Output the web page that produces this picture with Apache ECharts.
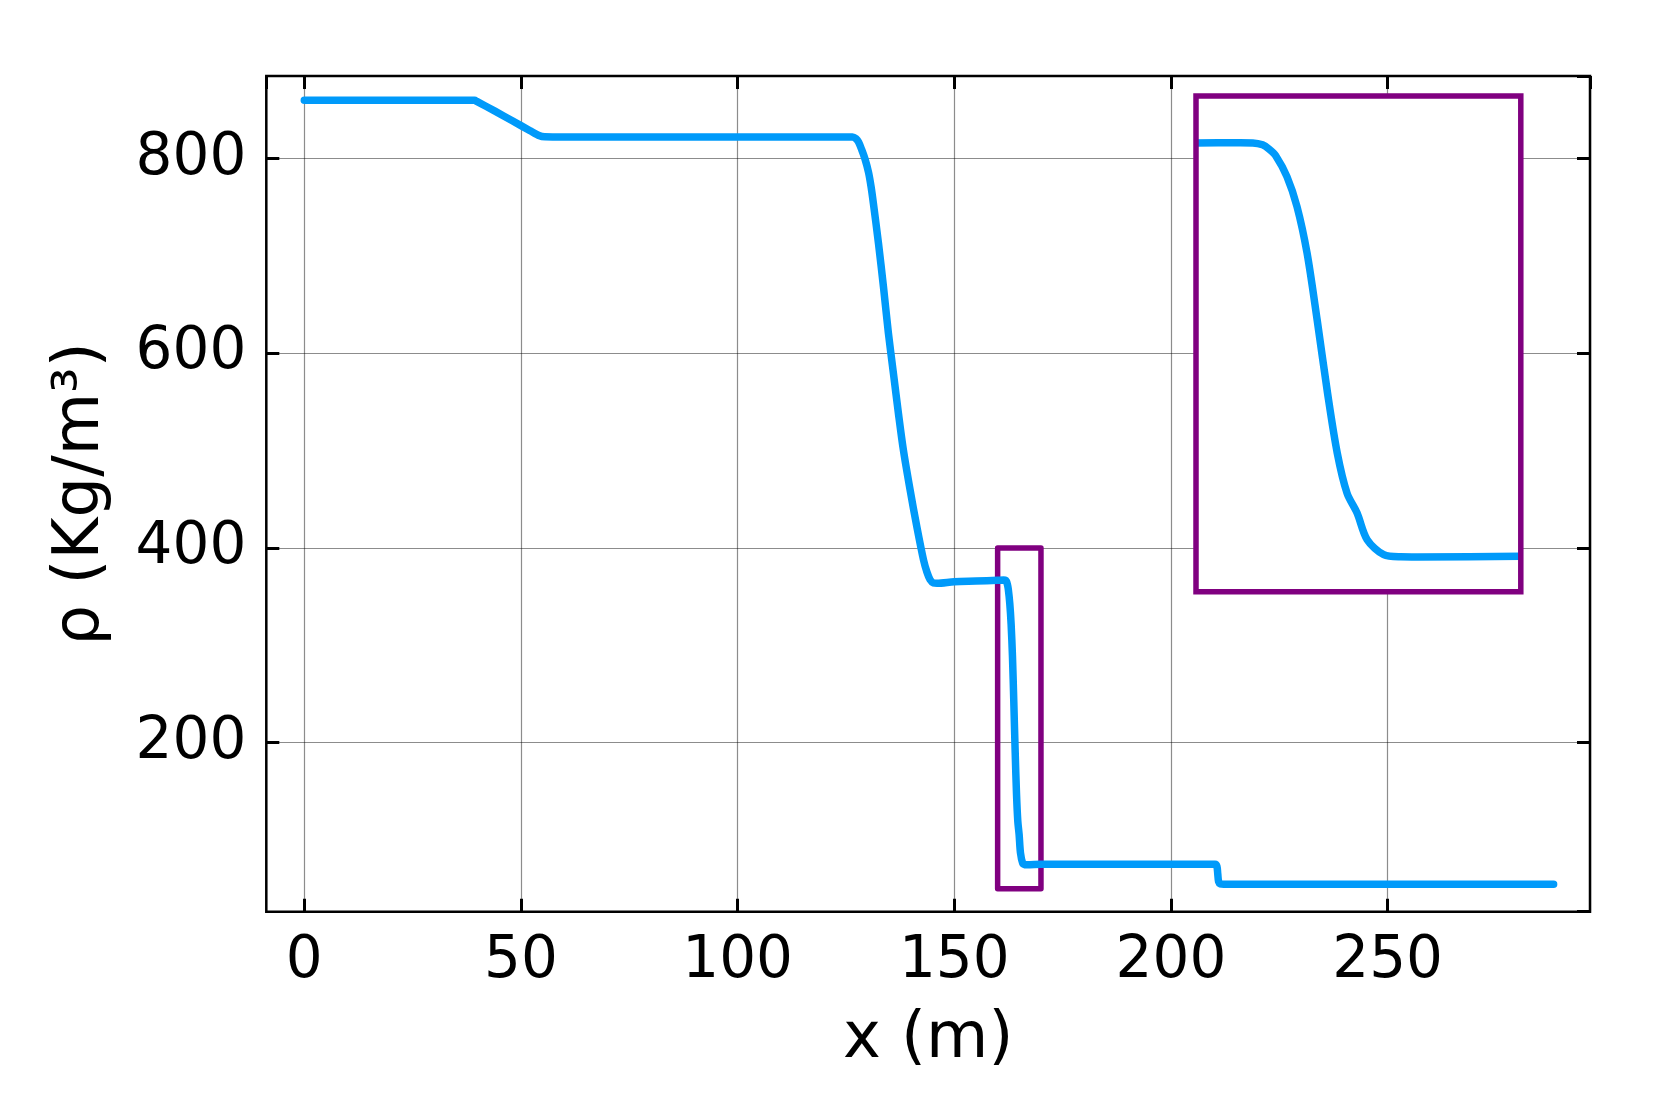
<!DOCTYPE html>
<html>
<head>
<meta charset="utf-8">
<script src="https://cdn.jsdelivr.net/npm/echarts@6/dist/echarts.min.js"></script>
<style>
html,body{margin:0;padding:0;background:#fff;}
#chart{width:1667px;height:1112px;}
</style>
</head>
<body>
<div id="chart"></div>
<script>
// ---- data ----
const xValues = [0, 39.3, 39.8, 44, 48, 52, 54.3, 55.5, 60, 126.5, 127.3, 127.9, 128.65, 129.4, 130.2, 130.8, 131.3, 132.5, 133.65, 134.8, 135.95, 137.1, 138.25, 139.8, 141.35, 142.9, 143.7, 144.4, 145.2, 146, 150, 155, 160, 161.36, 161.75, 162.05, 162.25, 162.45, 162.8, 163.11, 163.42, 163.73, 164.05, 164.35, 164.65, 164.96, 165.27, 165.78, 166.3, 166.81, 170, 190, 210.2, 210.6, 210.8, 211.0, 211.4, 212.2, 288.3];
const rhoValues = [860, 860, 858.8, 848.8, 838.9, 829.0, 823.5, 822.5, 822.3, 822.3, 820.5, 817, 809, 799.5, 786, 771, 755, 713, 668.4, 620.5, 579.4, 538.4, 500.6, 459.6, 421.9, 387.6, 375, 367.5, 364, 363.7, 365.3, 366, 366.8, 367, 366.9, 365.5, 362.5, 358, 343.1, 321.9, 289.0, 241.9, 190.2, 147.8, 119.6, 105.5, 86.7, 76.1, 74.6, 74.5, 75, 75, 75, 73, 65, 57, 54.8, 54.5, 54.5];
const lensX = [160, 170];
const lensY = [50, 400];
const xLimits = [-8.77, 296.7];
const yLimits = [26.3, 884.9];

const lineData = xValues.map((x, i) => [x, rhoValues[i]]);
const lensRect = [[lensX[0], lensY[0]], [lensX[1], lensY[0]], [lensX[1], lensY[1]], [lensX[0], lensY[1]], [lensX[0], lensY[0]]];

const FONT = 'DejaVu Sans';
const BLUE = '#009AFA';
const PURPLE = '#800080';
const LW = 7.5;
const tickStyle = {show: true, inside: true, length: 13, lineStyle: {color: '#000', width: 3}};
const gridLine = {show: true, lineStyle: {color: 'rgba(0,0,0,0.45)', width: 1.2}};
const noLine = {show: false, onZero: false};

// inset frame; the line grid is shrunk by half a line width so the series clip ends on the frame centre
const inset = {left: 1196, top: 96, width: 324.8, height: 495.7};
const pad = LW / 2;
const dx = (lensX[1] - lensX[0]) * pad / inset.width;
const dy = (lensY[1] - lensY[0]) * pad / inset.height;

const chart = echarts.init(document.getElementById('chart'), null, {renderer: 'canvas'});
chart.setOption({
  backgroundColor: '#fff',
  animation: false,
  grid: [
    {left: 266.3, top: 76, width: 1323.7, height: 835.7, show: true, borderColor: '#000', borderWidth: 2.5, backgroundColor: 'transparent', z: 0},
    {left: inset.left + pad, top: inset.top + pad, width: inset.width - 2 * pad, height: inset.height - 2 * pad, show: false, z: 5},
    {left: inset.left, top: inset.top, width: inset.width, height: inset.height, show: true, borderWidth: 0, backgroundColor: '#fff', z: 4},
    {left: inset.left, top: inset.top, width: inset.width, height: inset.height, show: true, borderWidth: 5.5, borderColor: PURPLE, backgroundColor: 'transparent', z: 8}
  ],
  xAxis: [
    {type: 'value', gridIndex: 0, min: xLimits[0], max: xLimits[1], splitNumber: 6, position: 'bottom',
     axisLine: noLine, axisTick: tickStyle, splitLine: gridLine,
     axisLabel: {show: true, showMinLabel: false, showMaxLabel: false, fontFamily: FONT, fontSize: 58, color: '#000', margin: 21},
     name: 'x (m)', nameLocation: 'middle', nameGap: 97, nameTextStyle: {fontFamily: FONT, fontSize: 64, color: '#000'}},
    {type: 'value', gridIndex: 0, min: xLimits[0], max: xLimits[1], splitNumber: 6, position: 'top',
     axisLine: noLine, axisTick: tickStyle, splitLine: {show: false}, axisLabel: {show: false}},
    {type: 'value', gridIndex: 1, min: lensX[0] + dx, max: lensX[1] - dx, show: false},
    {type: 'value', gridIndex: 2, min: lensX[0], max: lensX[1], show: false},
    {type: 'value', gridIndex: 3, min: lensX[0], max: lensX[1], show: false}
  ],
  yAxis: [
    {type: 'value', gridIndex: 0, min: yLimits[0], max: yLimits[1], splitNumber: 4, position: 'left',
     axisLine: noLine, axisTick: tickStyle, splitLine: gridLine,
     axisLabel: {show: true, showMinLabel: false, showMaxLabel: false, fontFamily: FONT, fontSize: 58, color: '#000', margin: 20},
     name: 'ρ (Kg/m³)', nameLocation: 'middle', nameGap: 153, nameTextStyle: {fontFamily: FONT, fontSize: 64, color: '#000'}},
    {type: 'value', gridIndex: 0, min: yLimits[0], max: yLimits[1], splitNumber: 4, position: 'right',
     axisLine: noLine, axisTick: tickStyle, splitLine: {show: false}, axisLabel: {show: false}},
    {type: 'value', gridIndex: 1, min: lensY[0] + dy, max: lensY[1] - dy, show: false},
    {type: 'value', gridIndex: 2, min: lensY[0], max: lensY[1], show: false},
    {type: 'value', gridIndex: 3, min: lensY[0], max: lensY[1], show: false}
  ],
  series: [
    {type: 'line', xAxisIndex: 0, yAxisIndex: 0, data: lensRect, symbol: 'none', z: 2,
     lineStyle: {color: PURPLE, width: 5.5, join: 'round', cap: 'round'}, silent: true},
    {type: 'line', xAxisIndex: 0, yAxisIndex: 0, data: lineData, symbol: 'none', z: 3, smooth: 0.3,
     lineStyle: {color: BLUE, width: LW, join: 'round', cap: 'round'}},
    {type: 'line', xAxisIndex: 2, yAxisIndex: 2, data: lineData, symbol: 'none', z: 6, clip: true, smooth: 0.3,
     lineStyle: {color: BLUE, width: LW, join: 'round', cap: 'butt'}}
  ]
});
</script>
</body>
</html>
